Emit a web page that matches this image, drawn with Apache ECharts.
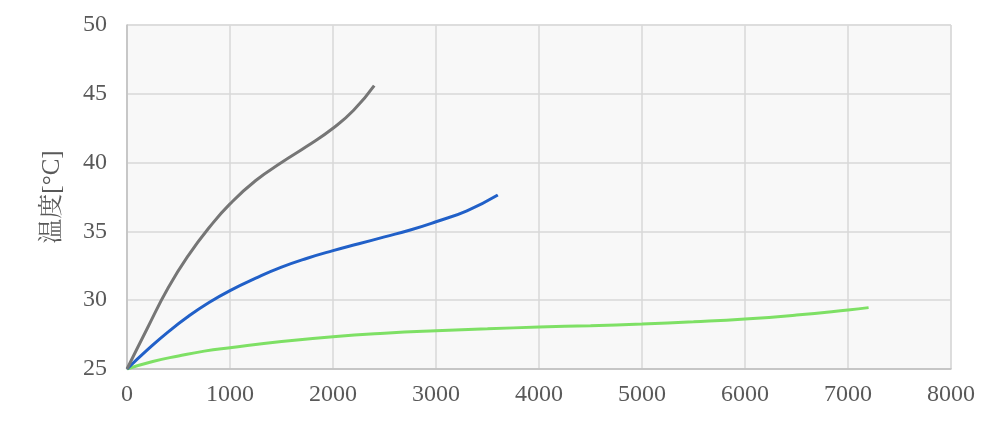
<!DOCTYPE html>
<html><head><meta charset="utf-8">
<script src="https://cdn.jsdelivr.net/npm/echarts@6/dist/echarts.min.js"></script>
<style>html,body{margin:0;padding:0;background:#fff}#c{width:1000px;height:425px}</style>
</head><body><div id="c"></div>
<script>
var grayX = [0,200,400,600,800,1000,1250,1500,1750,2000,2200,2400];
var grayY = [25,28.0,30.9,33.3,35.3,37.0,38.7,40.0,41.2,42.5,43.8,45.6];
var blueX = [0,200,400,600,800,1000,1250,1500,1750,2000,2250,2500,2750,3000,3300,3600];
var blueY = [25,26.4,27.7,28.85,29.85,30.7,31.6,32.4,33.05,33.6,34.1,34.6,35.1,35.7,36.5,37.65];
var greenX = [0,250,500,750,1000,1500,2000,2500,3000,3500,4000,4500,5000,5500,6000,6500,7000,7200];
var greenY = [25,25.55,25.95,26.3,26.55,27.0,27.35,27.6,27.78,27.92,28.05,28.15,28.27,28.43,28.63,28.92,29.29,29.46];
var xTicks = [0,1000,2000,3000,4000,5000,6000,7000,8000];
var yTicks = [25,30,35,40,45,50];
var yName = '温度[°C]';

function pairs(xs, ys){ return xs.map(function(x,i){ return [x, ys[i]]; }); }
var font = 'Liberation Serif, "Noto Serif CJK JP", "Noto Sans CJK JP", serif';
var chart = echarts.init(document.getElementById('c'), null, {renderer:'canvas'});
chart.setOption({
  animation:false,
  backgroundColor:'#ffffff',
  grid:{left:127, right:49, top:25, bottom:56, show:true, backgroundColor:'#f8f8f8', borderColor:'#d9d9d9', borderWidth:1},
  xAxis:{type:'value', min:xTicks[0], max:xTicks[xTicks.length-1], interval:1000,
    axisLine:{show:true, lineStyle:{color:'#bfbfbf', width:1.5}}, axisTick:{show:false},
    axisLabel:{color:'#595959', fontSize:24, fontFamily:font, margin:14, formatter:function(v){return String(v);}},
    splitLine:{show:true, lineStyle:{color:'#d9d9d9', width:1.5}}},
  yAxis:{type:'value', min:yTicks[0], max:yTicks[yTicks.length-1], interval:5,
    name:yName, nameLocation:'middle', nameGap:62, nameRotate:90,
    nameTextStyle:{color:'#595959', fontSize:25, fontFamily:font},
    axisLine:{show:true, lineStyle:{color:'#bfbfbf', width:1.5}}, axisTick:{show:false},
    axisLabel:{color:'#595959', fontSize:24, fontFamily:font, margin:20},
    splitLine:{show:true, lineStyle:{color:'#d9d9d9', width:1.5}}},
  series:[
    {type:'line', data:pairs(greenX, greenY), smooth:0.5, showSymbol:false, lineStyle:{color:'#7ee065', width:3}},
    {type:'line', data:pairs(blueX, blueY), smooth:0.5, showSymbol:false, lineStyle:{color:'#2160c8', width:3}},
    {type:'line', data:pairs(grayX, grayY), smooth:0.5, showSymbol:false, lineStyle:{color:'#767676', width:3}}
  ]
});
</script></body></html>
